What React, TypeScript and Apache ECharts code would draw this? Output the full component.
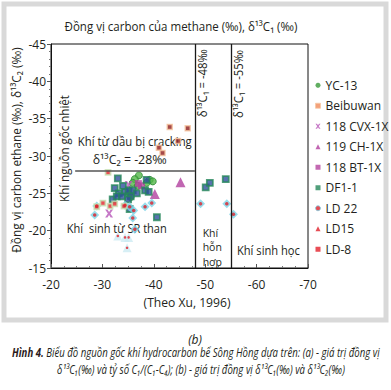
import React, { useEffect, useRef } from "react";
import * as echarts from "echarts";

const FONT = '"Open Sans", "Noto Sans", "DejaVu Sans", sans-serif';
const INK = "#231f20";

// axis bounds (δ13C1 on x, δ13C2 on y)
const X_MIN = -70, X_MAX = -20, X_STEP = 10;
const Y_MIN = -45, Y_MAX = -15, Y_STEP = 5;

const legendNames = ["YC-13", "Beibuwan", "118 CVX-1X", "119 CH-1X", "118 BT-1X", "DF1-1", "LD 22", "LD15", "LD-8"];

const yc13 = [[-37.1, -27.4], [-36.3, -26.9], [-35.9, -26.4], [-39.2, -26.8], [-39.8, -26.6], [-38.6, -26.4], [-35.1, -24.9], [-35.5, -24.5], [-36.9, -26.0]];
const beibuwan = [[-43.1, -33.9], [-46.6, -33.7], [-44.7, -32.0], [-41.0, -31.1], [-41.7, -30.4]];
const cvx118 = [[-35.1, -26.1], [-31.3, -22.3]];
const ch119 = [[-45.2, -26.5], [-40.2, -24.9]];
const bt118 = [[-37.0, -26.3], [-37.6, -26.0]];
const df11 = [[-33.0, -27.0], [-32.4, -25.7], [-34.0, -26.0], [-33.2, -25.0], [-34.4, -25.2], [-35.1, -25.4], [-35.9, -25.4], [-35.5, -24.6], [-36.7, -25.0], [-38.3, -25.4], [-39.0, -25.2], [-38.6, -26.8], [-32.0, -24.2], [-32.8, -24.6], [-33.8, -24.6], [-35.0, -24.2], [-35.3, -22.9], [-40.6, -21.8], [-50.1, -25.8], [-50.9, -26.4], [-54.0, -26.9]];
const ld22 = [[-28.9, -23.3], [-28.5, -22.1], [-34.4, -23.4], [-35.3, -23.2], [-36.1, -22.7], [-35.9, -21.7], [-38.3, -23.2], [-39.6, -23.7], [-49.1, -23.6], [-54.2, -23.6], [-55.5, -22.2], [-36.3, -20.2]];
const ld15 = [[-33.0, -19.3], [-34.4, -19.1], [-35.1, -19.1], [-34.8, -17.7]];
const ld8 = [[-31.1, -27.8], [-30.1, -23.7], [-31.5, -23.3], [-32.4, -23.6], [-28.9, -23.2], [-34.2, -23.3]];

// boundary values
const C1_MIXED = -48, C1_BIO = -55, C2_LIMIT = -28, C2_LINE_START = -24.7;

const X_SYMBOL = "path://M0,0L3,0L5,3L7,0L10,0L6.5,5L10,10L7,10L5,7L3,10L0,10L3.5,5Z";

const legendIcons: Record<string, any> = {
  "YC-13": { icon: "circle", itemStyle: { color: "#3a9a3a", borderWidth: 0 } },
  "Beibuwan": { icon: "rect", itemStyle: { color: "#f08a5a", borderColor: "#f7c9a5", borderWidth: 1 } },
  "118 CVX-1X": { icon: X_SYMBOL, itemStyle: { color: "#b655b8", borderWidth: 0 } },
  "119 CH-1X": { icon: "triangle", itemStyle: { color: "#b2409f", borderWidth: 0 } },
  "118 BT-1X": { icon: "rect", itemStyle: { color: "#b4439f", borderWidth: 0 } },
  "DF1-1": { icon: "rect", itemStyle: { color: "#26875a", borderWidth: 0 } },
  "LD 22": { icon: "circle", itemStyle: { color: "#e0202a", borderColor: "#7dd3e6", borderWidth: 1 } },
  "LD15": { icon: "triangle", itemStyle: { color: "#e0202a", borderWidth: 0 } },
  "LD-8": { icon: "rect", itemStyle: { color: "#e3202a", borderWidth: 0 } },
};

let ctx: CanvasRenderingContext2D | null = null;
function measure(text: string, font: string) {
  if (!ctx) ctx = document.createElement("canvas").getContext("2d");
  ctx!.font = font;
  return ctx!.measureText(text).width;
}

function txt(text: string, x: number, y: number, o: any = {}) {
  const size = o.size ?? 12;
  const weight = o.weight ?? "normal";
  const fstyle = o.italic ? "italic" : "normal";
  const font = `${fstyle} ${weight} ${size}px ${FONT}`;
  const w = measure(text, font);
  const s = o.w ? o.w / w : 1;
  const align = o.align ?? "center";
  return {
    type: "text",
    x, y,
    rotation: o.rot ?? 0,
    scaleX: s,
    silent: true,
    style: {
      text,
      fontSize: size,
      fontFamily: FONT,
      fontWeight: weight,
      fontStyle: fstyle,
      fill: o.fill ?? INK,
      align,
      verticalAlign: "middle",
      textAlign: align,
      textVerticalAlign: "middle",
    },
  };
}

export default function App() {
  const ref = useRef<HTMLDivElement>(null);
  useEffect(() => {
    document.body.style.margin = "0";
    const chart = echarts.init(ref.current!, null, { renderer: "svg" });
    const base = { type: "scatter", z: 3 };
    const option: any = {
      animation: false,
      textStyle: { fontFamily: FONT, color: INK },
      grid: { left: 51, right: 83, top: 44, bottom: 122, show: true, borderColor: "#111", borderWidth: 1 },
      xAxis: {
        type: "value", min: X_MIN, max: X_MAX, interval: X_STEP, inverse: true,
        axisLine: { onZero: false, lineStyle: { color: "#111", width: 1 } },
        axisTick: { inside: true, length: 4, lineStyle: { color: "#555" } },
        minorTick: { show: true, splitNumber: 4, length: 2, lineStyle: { color: "#777" } },
        splitLine: { show: false },
        axisLabel: { fontSize: 12, color: INK, margin: 10, fontFamily: FONT },
      },
      yAxis: {
        type: "value", min: Y_MIN, max: Y_MAX, interval: Y_STEP, inverse: true,
        axisLine: { onZero: false, lineStyle: { color: "#111", width: 1 } },
        axisTick: { inside: false, length: 4, lineStyle: { color: "#555" } },
        minorTick: { show: true, splitNumber: 5, length: 2, lineStyle: { color: "#777" } },
        splitLine: { show: false },
        axisLabel: { fontSize: 12, color: INK, margin: 5, fontFamily: FONT },
      },
      legend: {
        data: legendNames.map((n) => ({ name: n, ...legendIcons[n] })),
        orient: "vertical", left: 310, top: 73,
        itemWidth: 5, itemHeight: 5, itemGap: 6,
        textStyle: { fontSize: 12, color: INK, fontFamily: FONT, lineHeight: 14.5 },
        selectedMode: false,
      },
      series: [
        {
          ...base, name: "YC-13", data: yc13, symbol: "circle", symbolSize: 7,
          itemStyle: { color: "#52b648", borderColor: "#2d8a34", borderWidth: 1 },
          markLine: {
            silent: true, symbol: "none", label: { show: false },
            data: [
              { xAxis: C1_MIXED, lineStyle: { color: "#1a1a1a", width: 1.3, type: "solid" } },
              { xAxis: C1_BIO, lineStyle: { color: "#1a1a1a", width: 1.3, type: "solid" } },
              [
                { coord: [C2_LINE_START, C2_LIMIT], lineStyle: { color: "#555", width: 1.5, type: "solid" } },
                { coord: [C1_MIXED, C2_LIMIT] },
              ],
            ],
          },
        },
        { ...base, name: "Beibuwan", data: beibuwan, symbol: "rect", symbolSize: 5, itemStyle: { color: "#8e1b1b", borderColor: "#f5c6a0", borderWidth: 1.5 } },
        { ...base, name: "118 CVX-1X", data: cvx118, symbol: X_SYMBOL, symbolSize: 8, itemStyle: { color: "#b655b8" } },
        { ...base, name: "119 CH-1X", data: ch119, symbol: "triangle", symbolSize: 10, itemStyle: { color: "#b2409f" } },
        { ...base, name: "118 BT-1X", data: bt118, symbol: "rect", symbolSize: 7, itemStyle: { color: "#b4439f" } },
        { ...base, name: "DF1-1", data: df11, symbol: "rect", symbolSize: 6, itemStyle: { color: "#2f4f9c", borderColor: "#26875a", borderWidth: 1.8 } },
        { ...base, name: "LD 22", data: ld22, symbol: "diamond", symbolSize: 9, itemStyle: { color: "#7dd3e6" } },
        { ...base, name: "LD 22 dot", data: ld22, symbol: "circle", symbolSize: 3.5, z: 4, itemStyle: { color: "#e0202a" } },
        { ...base, name: "LD15", data: ld15, symbol: "triangle", symbolSize: 9, itemStyle: { color: "#cdebf2" } },
        { ...base, name: "LD15 dot", data: ld15, symbol: "circle", symbolSize: 2.5, z: 4, itemStyle: { color: "#e0202a" } },
        { ...base, name: "LD-8", data: ld8, symbol: "rect", symbolSize: 5, itemStyle: { color: "#e3202a", borderColor: "#c6e3b4", borderWidth: 1.8 } },
      ],
    };
    chart.setOption(option);

    const px = (x: number, y: number) => chart.convertToPixel({ gridIndex: 0 }, [x, y]) as number[];
    const a = px(-22.5, -31.0);
    const b = px(-36.3, -32.0);
    const c = px(-35.3, -29.5);
    const d = px(-32.8, -20.4);
    const e1 = px(-49.5, -19.7);
    const e2 = px(-49.5, -17.8);
    const e3 = px(-49.5, -15.8);
    const f = px(-62.3, -17.3);
    const g = px(-49.5, -44.3);
    const h = px(-56.5, -44.2);

    const capFont = (w: string) => `italic ${w} 12px ${FONT}`;
    const cap1a = "Hình 4.";
    const cap1b = " Biểu đồ nguồn gốc khí hydrocarbon bể Sông Hồng dựa trên: (a) - giá trị đồng vị";
    const w1a = measure(cap1a, capFont("bold"));
    const w1b = measure(cap1b, capFont("normal"));
    const s1 = 368 / (w1a + w1b);

    const graphic: any[] = [
      { type: "rect", silent: true, shape: { x: 4, y: 4, width: 382, height: 316 }, style: { fill: "none", stroke: "#d9d9d9", lineWidth: 5 } },
      txt("Đồng vị carbon của methane (‰), δ¹³C₁ (‰)", 181, 26, { size: 12.5, w: 233 }),
      txt("Đồng vị carbon ethane (‰), δ¹³C₂ (‰)", 16, 150, { size: 12.5, w: 206, rot: Math.PI / 2 }),
      txt("(Theo Xu, 1996)", 187, 303, { size: 12, w: 87 }),
      txt("Khí nguồn gốc nhiệt", a[0], a[1], { size: 12.5, w: 107, rot: Math.PI / 2 }),
      txt("Khí từ dầu bị cracking", b[0], b[1], { size: 12.5, w: 114 }),
      txt("δ¹³C₂ = -28‰", c[0], c[1], { size: 12.5, w: 74 }),
      txt("Khí  sinh từ SR than", d[0], d[1], { size: 12.5, w: 100 }),
      txt("Khí", e1[0], e1[1], { size: 10.5, align: "left" }),
      txt("hỗn", e2[0], e2[1], { size: 10.5, align: "left" }),
      txt("hợp", e3[0], e3[1], { size: 10.5, align: "left" }),
      txt("Khí sinh học", f[0], f[1], { size: 12, w: 63 }),
      txt("δ¹³C₁ = -48‰", g[0], g[1], { size: 12, w: 68, rot: Math.PI / 2, align: "right" }),
      txt("δ¹³C₁ = -55‰", h[0], h[1], { size: 12, w: 68, rot: Math.PI / 2, align: "right" }),
      txt("(b)", 195, 339, { size: 12, italic: true }),
      {
        type: "group", x: 12, y: 352, scaleX: s1, silent: true,
        children: [
          { type: "text", x: 0, y: 0, style: { text: cap1a, fontSize: 12, fontFamily: FONT, fontWeight: "bold", fontStyle: "italic", fill: "#2a1a1a", align: "left", verticalAlign: "middle", textAlign: "left", textVerticalAlign: "middle" } },
          { type: "text", x: w1a, y: 0, style: { text: cap1b, fontSize: 12, fontFamily: FONT, fontWeight: "normal", fontStyle: "italic", fill: INK, align: "left", verticalAlign: "middle", textAlign: "left", textVerticalAlign: "middle" } },
        ],
      },
      txt("δ¹³C₁(‰) và tỷ số C₁/(C₁-C₄); (b) - giá trị đồng vị δ¹³C₁(‰) và δ¹³C₂(‰)", 201, 369, { size: 12, italic: true, w: 288 }),
    ];
    chart.setOption({ graphic });
    return () => chart.dispose();
  }, []);
  return <div ref={ref} style={{ position: "absolute", left: 0, top: 0, width: 391, height: 390 }} />;
}
